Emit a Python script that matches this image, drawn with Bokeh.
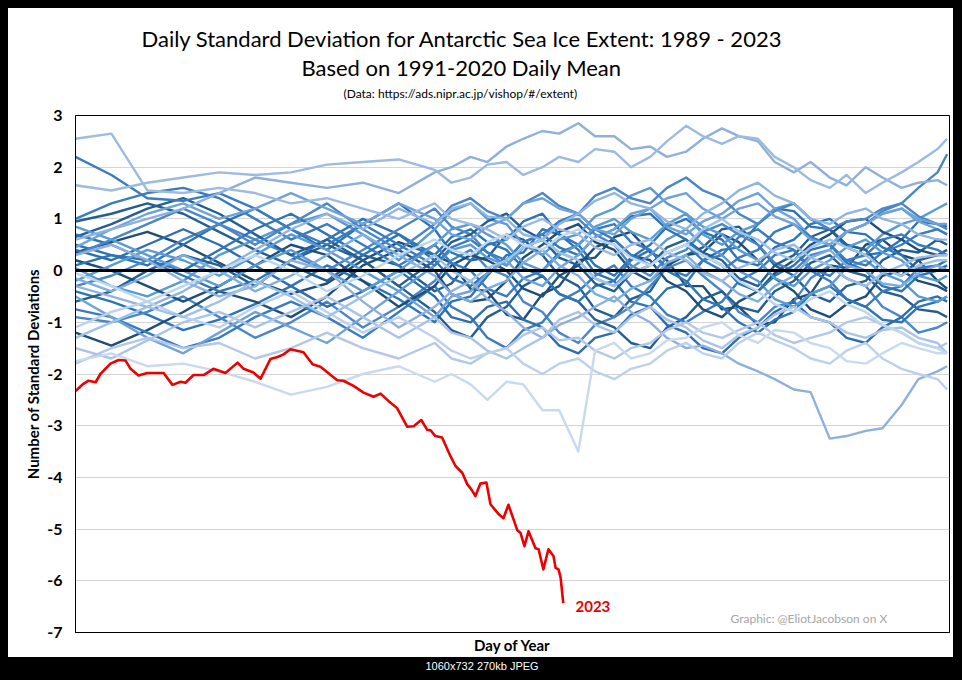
from bokeh.plotting import figure
from bokeh.models import Range1d, FixedTicker, Span, Label, Title
from bokeh.embed import file_html
from bokeh.resources import INLINE

# ---------------- data ----------------
DAYS = [1, 16, 31, 46, 61, 76, 91, 106, 121, 136, 151,
        158, 166, 173, 181, 188, 196, 203, 211, 218, 226, 233, 241, 248, 256,
        263, 271, 278, 286, 293, 301, 308, 316, 323, 331, 338, 346, 353, 361, 365]

Y1989 = [0.35, 0.55, 0.75, 0.5, 0.15, -0.2, -0.45, -0.25, 0.2, 0.55, 0.3,
         0.15, -0.35, -0.4, -0.85, -0.95, -0.45, -0.3, 0.2, 0.25, 0.65, 0.75, 0.35, 0.2, -0.3,
         -0.3, -0.75, -0.7, -1.05, -1.0, -0.55, -0.45, 0.1, 0.05, 0.5, 0.6, 0.3, 0.2, -0.2, -0.35]
Y1990 = [-0.4, -0.6, -0.85, -1.15, -0.95, -0.65, -0.3, 0.1, -0.2, -0.55, -1.0,
         -0.6, -0.5, -0.1, 0.3, 0.35, 0.8, 0.7, 0.4, -0.05, -0.2, -0.6, -0.7, -0.35, -0.25,
         0.2, 0.4, 0.45, 0.9, 1.2, 1.15, 0.85, 0.8, 0.45, 0.3, 0.35, 0.6, 0.95, 0.9, 0.85]
Y1991 = [0.95, 1.1, 1.3, 1.1, 0.75, 0.4, 0.1, -0.2, 0.3, 0.1, -0.4,
         -0.25, 0.2, 0.25, 0.7, 0.6, 0.3, -0.1, -0.3, -0.75, -0.9, -0.55, -0.4, 0.1, 0.3,
         0.45, 0.8, 0.85, 0.5, 0.1, -0.1, -0.45, -0.6, -0.3, -0.2, 0.2, 0.4, 0.35, 0.6, 0.5]
Y1992 = [-0.9, -1.0, -0.8, -0.5, -0.9, -1.3, -1.0, -0.6, -1.1, -0.7, -0.2,
         0.2, 0.4, 0.05, -0.1, -0.6, -0.8, -1.2, -1.4, -1.05, -0.9, -0.7, -0.3, 0.05, 0.2,
         -0.1, -0.4, -0.8, -1.0, -0.7, -0.6, -0.15, 0.1, -0.15, -0.3, -0.7, -0.9, -1.2, -1.1, -1.0]
Y1993 = [-1.2, -1.45, -1.15, -0.8, -0.4, -0.6, -0.9, -0.5, 0.1, 0.4, 0.0,
         -0.45, -0.6, -0.55, -0.2, 0.25, 0.5, 0.75, 0.9, 0.55, 0.4, 0.0, -0.2, 0.1, 0.3,
         0.35, 0.7, 0.55, 0.2, -0.15, -0.4, -0.75, -0.9, -0.65, -0.5, -0.1, 0.0, -0.2, -0.3, -0.4]
Y1994 = [0.5, 0.3, 0.1, 0.5, 0.9, 1.2, 0.8, 0.4, 0.9, 1.3, 0.8,
         0.35, 0.2, 0.5, 0.6, 0.95, 1.1, 0.7, 0.5, 0.1, -0.1, 0.25, 0.5, 0.85, 1.0,
         0.75, 0.6, 0.2, 0.1, 0.45, 0.6, 0.9, 1.0, 0.75, 0.7, 0.45, 0.3, 0.0, 0.1, 0.2]
Y1995 = [0.05, -0.3, -0.5, -0.2, 0.3, 0.6, 0.9, 1.1, 0.7, 0.2, 0.8,
         1.15, 1.3, 1.0, 0.9, 0.5, 0.3, 0.6, 0.7, 1.05, 1.2, 1.45, 1.6, 1.3, 1.1,
         0.7, 0.5, 0.75, 0.9, 1.2, 1.3, 1.0, 0.8, 0.5, 0.4, 0.7, 0.9, 1.0, 1.2, 1.3]
Y1996 = [-0.6, -0.4, 0.0, 0.3, 0.1, -0.3, 0.2, 0.5, 0.2, -0.3, -0.8,
         -1.15, -1.3, -0.9, -0.7, -0.3, -0.1, -0.45, -0.6, -0.95, -1.1, -1.4, -1.5, -1.1, -0.9,
         -0.55, -0.4, -0.7, -0.8, -0.4, -0.2, 0.15, 0.3, 0.0, -0.1, -0.4, -0.5, -0.75, -0.8, -0.9]
Y1997 = [-0.75, -0.9, -1.2, -1.5, -1.3, -0.9, -0.6, -0.9, -1.3, -0.8, -0.3,
         -0.7, -0.9, -1.3, -1.5, -1.15, -1.0, -0.6, -0.4, -0.1, 0.1, -0.3, -0.5, -0.85, -1.0,
         -0.8, -0.6, -0.2, 0.0, 0.3, 0.4, 0.0, -0.2, -0.55, -0.7, -0.4, -0.3, 0.05, 0.1, 0.0]
Y1998 = [0.2, 0.0, -0.3, -0.6, -0.3, 0.1, 0.5, 0.3, -0.2, -0.7, -0.3,
         0.1, 0.3, 0.2, 0.0, -0.35, -0.5, -0.1, 0.1, 0.45, 0.6, 0.3, 0.2, -0.2, -0.4,
         -0.75, -0.9, -0.6, -0.4, -0.05, 0.2, 0.5, 0.7, 0.95, 1.0, 0.75, 0.6, 0.4, 0.3, 0.3]
Y1999 = [0.1, 0.3, 0.2, -0.1, -0.4, -0.2, 0.2, 0.6, 1.0, 0.7, 0.3,
         0.65, 0.8, 0.55, 0.4, 0.05, -0.1, -0.45, -0.6, -0.3, -0.2, 0.2, 0.4, 0.0, -0.2,
         -0.55, -0.7, -1.0, -1.2, -0.95, -0.8, -0.45, -0.3, -0.55, -0.7, -0.95, -1.0, -0.7, -0.6, -0.5]
Y2000 = [-0.3, -0.1, 0.2, 0.6, 0.9, 0.6, 0.3, 0.0, 0.4, 0.8, 1.2,
         0.85, 0.7, 0.35, 0.1, 0.45, 0.6, 0.95, 1.0, 0.7, 0.5, 0.1, -0.1, 0.25, 0.4,
         0.75, 0.9, 0.7, 0.5, 0.15, 0.0, 0.3, 0.4, 0.75, 0.9, 1.15, 1.3, 1.05, 0.9, 0.8]
Y2001 = [0.65, 0.9, 1.2, 1.4, 1.1, 0.7, 0.3, 0.6, 0.2, -0.3, 0.2,
         0.55, 0.7, 0.95, 1.1, 0.8, 0.6, 0.25, 0.1, -0.25, -0.4, -0.05, 0.1, 0.45, 0.6,
         0.35, 0.2, -0.15, -0.3, 0.1, 0.3, 0.65, 0.8, 0.5, 0.4, 0.05, -0.1, 0.2, 0.3, 0.4]
Y2002 = [0.4, 0.2, 0.5, 0.8, 0.5, 0.1, -0.3, -0.7, -0.4, 0.0, -0.5,
         -0.9, -1.0, -0.7, -0.6, -0.95, -1.1, -1.45, -1.6, -1.3, -1.2, -0.85, -0.7, -1.05, -1.2,
         -1.5, -1.6, -1.3, -1.1, -0.8, -0.6, -0.9, -1.0, -1.3, -1.4, -1.1, -0.9, -0.6, -0.5, -0.6]
Y2003 = [1.0, 1.3, 1.5, 1.6, 1.4, 1.0, 0.6, 0.9, 0.5, 0.1, 0.5,
         0.15, 0.0, -0.35, -0.5, -0.15, 0.0, 0.35, 0.5, 0.8, 0.9, 0.55, 0.4, 0.05, -0.1,
         0.2, 0.3, 0.65, 0.8, 0.55, 0.4, 0.05, -0.1, 0.2, 0.3, 0.6, 0.7, 0.5, 0.4, 0.3]
Y2004 = [-0.2, 0.1, 0.4, 0.2, -0.1, 0.3, 0.7, 0.4, 0.0, -0.4, 0.1,
         0.4, 0.5, 0.25, 0.1, 0.45, 0.6, 0.35, 0.2, -0.15, -0.3, 0.05, 0.3, 0.6, 0.8,
         0.5, 0.3, 0.0, -0.2, -0.55, -0.7, -0.45, -0.3, 0.05, 0.2, -0.05, -0.2, -0.5, -0.6, -0.5]
Y2005 = [0.7, 0.5, 0.2, 0.0, 0.4, 0.8, 1.1, 0.7, 0.3, 0.7, 0.2,
         -0.15, -0.3, -0.05, 0.2, 0.55, 0.7, 0.45, 0.3, 0.65, 0.8, 1.05, 1.1, 0.8, 0.6,
         0.3, 0.1, -0.25, -0.4, -0.1, 0.1, 0.4, 0.5, 0.15, 0.0, -0.3, -0.4, -0.1, 0.0, 0.1]
Y2006 = [-0.5, -0.9, -1.3, -1.6, -1.2, -0.8, -1.1, -1.4, -0.9, -0.4, -0.9,
         -0.5, -0.4, -0.05, 0.2, -0.15, -0.3, 0.05, 0.3, 0.65, 0.8, 1.1, 1.2, 0.85, 0.7,
         0.95, 1.1, 1.35, 1.5, 1.2, 1.0, 0.65, 0.5, 0.75, 0.9, 1.1, 1.2, 0.95, 0.8, 0.7]
Y2007 = [0.3, 0.6, 0.9, 1.2, 0.9, 0.5, 0.9, 1.3, 0.8, 0.4, 0.9,
         1.25, 1.4, 1.15, 1.0, 1.3, 1.5, 1.25, 1.1, 1.45, 1.6, 1.4, 1.3, 1.6, 1.8,
         1.55, 1.4, 1.1, 0.9, 1.15, 1.3, 1.0, 0.8, 0.95, 1.0, 1.2, 1.3, 1.6, 1.9, 2.25]
Y2008 = [2.2, 1.85, 1.4, 1.35, 1.5, 1.2, 0.8, 0.5, 0.9, 0.5, 0.1,
         0.45, 0.6, 0.35, 0.2, 0.55, 0.7, 0.95, 1.1, 0.8, 0.6, 0.3, 0.1, 0.35, 0.5,
         0.2, 0.0, 0.25, 0.4, 0.75, 0.9, 0.65, 0.5, 0.2, 0.1, 0.35, 0.5, 0.7, 0.8, 0.7]
Y2009 = [0.85, 0.6, 0.3, 0.0, -0.3, 0.1, 0.4, 0.0, -0.4, 0.0, 0.5,
         0.8, 0.9, 0.7, 0.5, 0.15, 0.0, 0.3, 0.5, 0.85, 1.0, 0.75, 0.6, 0.9, 1.1,
         0.85, 0.7, 0.4, 0.2, -0.15, -0.3, 0.0, 0.2, 0.45, 0.6, 0.35, 0.2, -0.1, -0.2, -0.1]
Y2010 = [0.45, 0.8, 1.1, 1.3, 1.0, 1.2, 1.5, 1.2, 0.9, 1.3, 1.0,
         0.7, 0.6, 0.85, 1.0, 1.3, 1.4, 1.2, 1.1, 0.8, 0.7, 1.0, 1.2, 1.4, 1.5,
         1.2, 1.0, 1.2, 1.3, 1.05, 0.9, 0.6, 0.5, 0.75, 0.9, 1.1, 1.2, 1.0, 0.9, 0.9]
Y2011 = [-0.15, -0.4, -0.1, 0.3, 0.0, -0.4, -0.1, 0.3, 0.7, 0.3, -0.1,
         -0.45, -0.6, -0.35, -0.2, 0.15, 0.4, 0.1, -0.1, -0.45, -0.6, -0.35, -0.2, 0.15, 0.3,
         0.0, -0.2, -0.45, -0.6, -0.3, -0.1, 0.25, 0.4, 0.1, 0.0, -0.25, -0.3, -0.05, 0.1, 0.0]
Y2012 = [-0.3, -0.5, -0.7, -0.4, 0.0, 0.4, 0.8, 1.1, 0.8, 1.2, 0.9,
         1.2, 1.3, 1.05, 1.0, 0.7, 0.6, 0.9, 1.1, 1.35, 1.5, 1.3, 1.2, 0.95, 0.8,
         1.1, 1.3, 1.55, 1.7, 1.45, 1.3, 1.0, 0.9, 1.1, 1.2, 1.0, 0.9, 0.7, 0.6, 0.6]
Y2013 = [0.6, 0.8, 1.0, 1.2, 1.5, 1.8, 1.7, 1.6, 1.7, 1.5, 1.9,
         2.0, 2.2, 2.1, 2.4, 2.55, 2.7, 2.65, 2.85, 2.6, 2.6, 2.35, 2.4, 2.2, 2.3,
         2.55, 2.75, 2.6, 2.5, 2.1, 1.9, 2.1, 1.8, 1.65, 2.0, 1.8, 1.6, 1.7, 1.75, 1.65]
Y2014 = [1.65, 1.55, 1.7, 1.8, 1.9, 1.85, 1.9, 2.05, 2.1, 2.15, 1.95,
         1.7, 1.8, 2.05, 2.1, 1.85, 2.0, 2.2, 2.1, 2.35, 2.3, 2.0, 2.2, 2.5, 2.8,
         2.6, 2.45, 2.6, 2.55, 2.2, 2.0, 1.75, 1.6, 1.85, 1.5, 1.7, 1.9, 2.1, 2.35, 2.55]
Y2015 = [2.55, 2.65, 1.55, 1.5, 1.6, 1.5, 1.3, 1.4, 1.2, 1.0, 1.3,
         1.0, 0.9, 0.8, 0.6, 0.85, 1.0, 0.8, 0.7, 0.45, 0.3, 0.5, 0.6, 0.35, 0.2,
         -0.05, -0.2, 0.05, 0.2, 0.4, 0.5, 0.25, 0.1, -0.15, -0.3, -0.05, 0.1, 0.25, 0.3, 0.3]
Y2016 = [0.3, 0.5, 0.2, -0.2, -0.5, -0.3, 0.2, 0.0, -0.6, -1.1, -0.7,
         -0.4, -0.2, -0.55, -0.8, -1.1, -1.3, -1.05, -0.9, -0.7, -0.5, -0.8, -1.0, -1.3, -1.5,
         -1.45, -1.6, -1.8, -1.95, -2.1, -2.3, -2.35, -3.25, -3.2, -3.1, -3.05, -2.6, -2.1, -1.95, -1.85]
Y2017 = [-1.8, -1.5, -1.3, -1.5, -1.4, -1.7, -1.5, -1.2, -1.5, -1.7, -1.4,
         -1.7, -1.8, -1.6, -1.5, -1.25, -1.1, -1.35, -1.3, -1.55, -1.7, -1.5, -1.4, -1.15, -1.0,
         -1.2, -1.3, -1.15, -1.0, -1.25, -1.4, -1.3, -1.2, -1.0, -0.9, -1.05, -1.2, -1.4, -1.5, -1.4]
Y2018 = [-1.5, -1.7, -1.35, -1.0, -0.8, -1.1, -0.8, -0.5, -0.9, -1.3, -0.9,
         -1.2, -1.3, -1.55, -1.7, -1.5, -1.3, -0.95, -0.8, -1.05, -1.2, -0.9, -0.7, -0.95, -1.1,
         -1.35, -1.5, -1.25, -1.1, -0.85, -0.7, -0.9, -1.0, -1.2, -1.3, -1.15, -1.1, -1.3, -1.4, -1.6]
Y2019 = [-1.1, -0.8, -0.6, -0.9, -1.1, -0.7, -0.4, -0.8, -1.2, -0.9, -1.3,
         -1.55, -1.7, -1.6, -1.5, -1.8, -2.0, -1.8, -1.7, -1.95, -2.1, -1.9, -1.8, -1.55, -1.4,
         -1.6, -1.7, -1.4, -1.2, -1.35, -1.5, -1.7, -1.8, -1.55, -1.4, -1.7, -1.9, -2.0, -2.1, -2.3]
Y2020 = [-1.3, -1.0, -0.7, -0.9, -0.6, -0.2, -0.5, -0.9, -0.5, -0.1, 0.3,
         0.0, -0.2, 0.05, 0.2, 0.45, 0.6, 0.35, 0.2, -0.15, -0.3, -0.05, 0.1, 0.35, 0.5,
         0.8, 1.0, 0.75, 0.6, 0.35, 0.2, 0.45, 0.6, 0.45, 0.3, 0.05, -0.1, 0.1, 0.2, 0.2]
Y2021 = [-0.05, -0.3, -0.6, -0.3, 0.0, 0.3, 0.0, -0.4, -0.1, 0.3, 0.6,
         0.4, 0.3, 0.55, 0.7, 0.5, 0.4, 0.65, 0.8, 0.6, 0.5, 0.25, 0.1, 0.35, 0.5,
         0.3, 0.1, -0.2, -0.4, -0.65, -0.8, -0.55, -0.4, -0.65, -0.8, -1.05, -1.2, -1.4, -1.5, -1.6]
Y2022 = [-1.75, -1.6, -1.85, -1.8, -1.95, -2.15, -2.4, -2.25, -2.0, -1.85, -2.15,
         -2.0, -2.2, -2.5, -2.15, -2.2, -2.7, -2.7, -3.5, -1.55, -1.4, -1.7, -1.6, -1.35, -1.3,
         -1.1, -1.0, -1.25, -1.4, -1.15, -1.2, -1.4, -1.5, -1.75, -1.8, -1.6, -1.4, -1.5, -1.6, -1.6]

SERIES = [Y1989, Y1990, Y1991, Y1992, Y1993, Y1994, Y1995, Y1996, Y1997, Y1998,
          Y1999, Y2000, Y2001, Y2002, Y2003, Y2004, Y2005, Y2006, Y2007, Y2008,
          Y2009, Y2010, Y2011, Y2012, Y2013, Y2014, Y2015, Y2016, Y2017, Y2018,
          Y2019, Y2020, Y2021, Y2022]

RED_DAYS = [1, 4.3, 6.4, 9.4, 11.4, 15.6, 19, 21.9, 24, 27.3, 31, 37.8, 41.5, 44.9,
            46.9, 50.3, 54.5, 58.6, 63.6, 68.7, 71.2, 75.3, 78.3, 82.4, 85.4, 87.9,
            90.8, 96.2, 100, 103.3, 110.3, 112.9, 117.1, 121.3, 125.5, 128.4, 131.7,
            135.3, 139.5, 142.2, 145.4, 147.9, 149.3, 151.3, 154.1, 157.6, 159.7,
            162.5, 164.6, 166.7, 168, 170.1, 172.6, 174.3, 177.7, 179.7, 181.8,
            185.5, 186.8, 188.5, 190.2, 193.1, 194.4, 196.4, 198.5, 200.6, 201.5,
            202.7, 203.6, 204.7]
RED_VALS = [-2.33, -2.19, -2.13, -2.16, -2.0, -1.80, -1.73, -1.74, -1.90, -2.03,
            -1.98, -1.98, -2.21, -2.15, -2.17, -2.02, -2.02, -1.90, -1.98, -1.78,
            -1.90, -1.97, -2.09, -1.71, -1.67, -1.62, -1.52, -1.58, -1.81, -1.86,
            -2.12, -2.13, -2.23, -2.36, -2.44, -2.38, -2.52, -2.66, -3.02, -3.01,
            -2.89, -3.08, -3.09, -3.20, -3.23, -3.59, -3.78, -3.91, -4.13, -4.26,
            -4.36, -4.12, -4.10, -4.52, -4.71, -4.79, -4.53, -5.02, -5.07, -5.33,
            -5.04, -5.37, -5.39, -5.78, -5.39, -5.52, -5.75, -5.78, -5.94, -6.43]

Y_TICKS = [-7, -6, -5, -4, -3, -2, -1, 0, 1, 2, 3]

TITLE_1 = "Daily Standard Deviation for Antarctic Sea Ice Extent: 1989 - 2023"
TITLE_2 = "Based on 1991-2020 Daily Mean"
TITLE_3 = "(Data: https://ads.nipr.ac.jp/vishop/#/extent)"

# ---------------- styles ----------------
COLORS = ["#1f4e79", "#2e75b6", "#255e91", "#4a86c8", "#1f4e79", "#2e75b6",
          "#5b9bd5", "#255e91", "#3a7cc0", "#1f4e79", "#2e75b6", "#4a86c8",
          "#255e91", "#2f6eae", "#3a7cc0", "#5b9bd5", "#2e75b6", "#6fa3d8",
          "#4a86c8", "#3a7cc0", "#5b9bd5", "#6fa3d8", "#7eaee0", "#8fb5e0",
          "#8fb0dc", "#9dbbe0", "#9dbbe0", "#8fb0dc", "#b4c7e7", "#a9c4e8",
          "#bdd0ec", "#9dc3e6", "#bdd7ee", "#c9d9ee"]

W, H = 962, 680
FL, FR, FT, FB = 75, 949, 115, 632      # plot frame in page pixels
X0, X1 = 1, 366
Y0, Y1 = -7, 3


def dx(px):
    return X0 + (px - FL) * (X1 - X0) / (FR - FL)


def dy(py):
    return Y1 - (py - FT) * (Y1 - Y0) / (FB - FT)


p = figure(width=W, height=H, x_range=Range1d(X0, X1), y_range=Range1d(Y0, Y1),
           output_backend="svg", toolbar_location=None, title=None,
           min_border_left=FL, min_border_right=W - FR,
           min_border_top=FT, min_border_bottom=H - FB)
# black frame of the screenshot, painted behind the transparent canvas
p.styles = {
    "position": "absolute", "left": "0px", "top": "0px",
    "background": ("linear-gradient(#000,#000) left top / 100% 8px no-repeat, "
                   "linear-gradient(#000,#000) left bottom / 100% 23px no-repeat, "
                   "linear-gradient(#000,#000) left top / 8px 100% no-repeat, "
                   "linear-gradient(#000,#000) right top / 9px 100% no-repeat, "
                   "#ffffff"),
}
p.background_fill_color = "white"
p.border_fill_color = None
p.outline_line_color = "black"
p.outline_line_width = 1

p.xgrid.visible = False
p.ygrid.ticker = FixedTicker(ticks=Y_TICKS)
p.ygrid.grid_line_color = "#d4d4d4"
p.ygrid.grid_line_width = 1

ya = p.yaxis[0]
ya.ticker = FixedTicker(ticks=Y_TICKS)
ya.major_label_overrides = {t: str(t) for t in Y_TICKS}
ya.major_label_text_font = "Lato"
ya.major_label_text_font_style = "bold"
ya.major_label_text_font_size = "16px"
ya.major_label_text_color = "black"
ya.major_tick_line_color = None
ya.minor_tick_line_color = None
ya.major_tick_out = 0
ya.major_tick_in = 0
ya.major_label_standoff = 13
ya.axis_line_color = "black"
ya.axis_label = "Number of Standard Deviations"
ya.axis_label_text_font = "Lato"
ya.axis_label_text_font_style = "bold"
ya.axis_label_text_font_size = "15px"
ya.axis_label_text_color = "black"
ya.axis_label_standoff = 2

xa = p.xaxis[0]
xa.ticker = FixedTicker(ticks=[])
xa.major_tick_line_color = None
xa.minor_tick_line_color = None
xa.major_tick_out = 0
xa.major_tick_in = 0
xa.major_label_standoff = 0
xa.major_label_text_font_size = "0px"
xa.axis_line_color = "black"
xa.axis_label = "Day of Year"
xa.axis_label_text_font = "Lato"
xa.axis_label_text_font_style = "bold"
xa.axis_label_text_font_size = "15px"
xa.axis_label_text_color = "black"
xa.axis_label_standoff = 3

# titles above the frame (first added sits closest to the frame)
p.add_layout(Title(text=TITLE_3, align="left", offset=268, standoff=26,
                   vertical_align="top",
                   text_font="Lato", text_font_size="12px", text_font_style="normal",
                   text_color="black"), "above")
p.add_layout(Title(text=TITLE_2, align="left", offset=226, standoff=-20,
                   vertical_align="top",
                   text_font="Lato", text_font_size="22px", text_font_style="normal",
                   text_color="black"), "above")
p.add_layout(Title(text=TITLE_1, align="left", offset=66, standoff=20,
                   vertical_align="top",
                   text_font="Lato", text_font_size="22px", text_font_style="normal",
                   text_color="black"), "above")
# caption in the black bar at the bottom
p.add_layout(Title(text="1060x732 270kb JPEG", align="left", offset=350, standoff=2,
                   text_font="Liberation Sans", text_font_size="11px",
                   text_font_style="normal", text_color="white"), "below")

for vals, col in zip(SERIES, COLORS):
    p.line(DAYS, vals, line_color=col, line_width=2.4, line_join="round")

p.add_layout(Span(location=0, dimension="width", line_color="black", line_width=3))

p.line(RED_DAYS, RED_VALS, line_color="#ee0000", line_width=2.6, line_join="round")

# texts inside the frame
p.add_layout(Label(x=dx(575), y=dy(606), text="2023", text_color="#e60000",
                   text_font="Lato", text_font_style="bold", text_font_size="15px",
                   text_align="left", text_baseline="middle"))
p.add_layout(Label(x=dx(730), y=dy(618), text="Graphic: @EliotJacobson on X",
                   text_color="#a6a6a6", text_font="Lato", text_font_size="12px",
                   text_align="left", text_baseline="middle"))

open("out.html", "w").write(file_html(p, INLINE))
